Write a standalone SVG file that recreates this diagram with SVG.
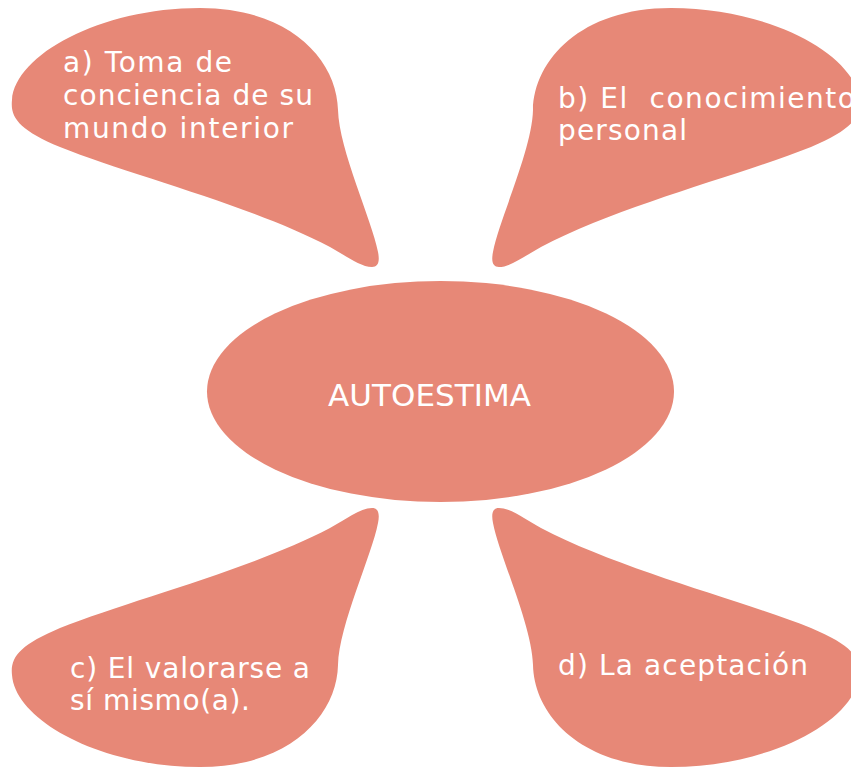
<svg xmlns="http://www.w3.org/2000/svg" xmlns:xlink="http://www.w3.org/1999/xlink" width="851" height="767" viewBox="0 0 851 767">
  <style>
    .shape { fill: #E78877; }
    .lbl { fill: #FFFFFF; font-family: "DejaVu Sans", "Liberation Sans", sans-serif; font-size: 28px; }
    .center { font-size: 31px; }
  </style>
  <defs>
    <path id="drop" d="M 372,267 C 360,267 345,255 330,247 C 250,205 130,175 60,147 C 20,130 10,118 12,100 C 15,55 100,8 200,8 C 290,8 337,60 338,110 C 339,150 372,220 378,252 C 380,262 378,267 372,267 Z"/>
  </defs>
  <rect width="851" height="767" fill="#FFFFFF"/>
  <g id="connectors"></g>
  <g id="node-a">
    <use xlink:href="#drop" href="#drop" class="shape"/>
    <text class="lbl" x="63" y="72" textLength="169" lengthAdjust="spacing">a) Toma de</text>
    <text class="lbl" x="63" y="105" textLength="250" lengthAdjust="spacing">conciencia de su</text>
    <text class="lbl" x="63" y="138" textLength="230" lengthAdjust="spacing">mundo interior</text>
  </g>
  <g id="node-b">
    <use xlink:href="#drop" href="#drop" class="shape" transform="matrix(-1,0,0,1,871,0)"/>
    <text class="lbl" x="558" y="108" textLength="297" lengthAdjust="spacing" xml:space="preserve">b) El  conocimiento</text>
    <text class="lbl" x="558" y="140" textLength="129" lengthAdjust="spacing">personal</text>
  </g>
  <g id="node-center">
    <ellipse class="shape" cx="440.5" cy="391.5" rx="233.5" ry="110.5"/>
    <text class="lbl center" x="328" y="406" textLength="203" lengthAdjust="spacing">AUTOESTIMA</text>
  </g>
  <g id="node-c">
    <use xlink:href="#drop" href="#drop" class="shape" transform="matrix(1,0,0,-1,0,775)"/>
    <text class="lbl" x="70" y="678" textLength="240" lengthAdjust="spacing">c) El valorarse a</text>
    <text class="lbl" x="70" y="710" textLength="180" lengthAdjust="spacing">sí mismo(a).</text>
  </g>
  <g id="node-d">
    <use xlink:href="#drop" href="#drop" class="shape" transform="matrix(-1,0,0,-1,871,775)"/>
    <text class="lbl" x="558" y="675" textLength="250" lengthAdjust="spacing">d) La aceptación</text>
  </g>
</svg>
